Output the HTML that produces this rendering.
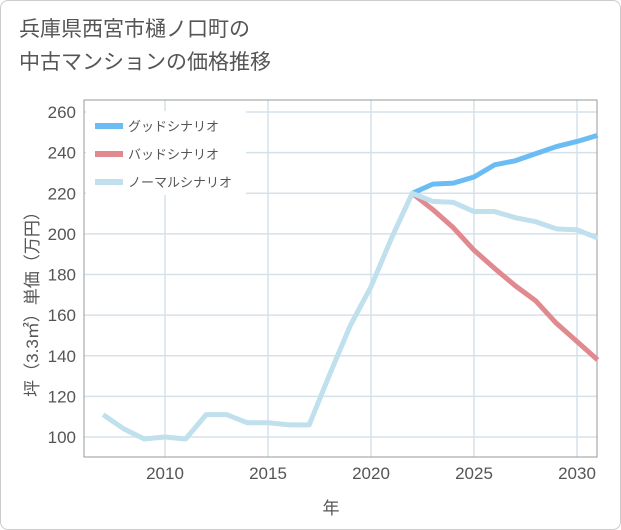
<!DOCTYPE html>
<html><head><meta charset="utf-8"><style>
body{margin:0;background:#fff;font-family:"Liberation Sans","Noto Sans CJK JP",sans-serif;}
.wrap{position:absolute;left:0;top:0;width:619px;height:528px;border:1px solid #ccc;border-radius:8px;background:#fff;}
.title{position:absolute;left:18px;top:12px;font-size:21px;line-height:33px;color:#555;}
</style></head><body>
<div class="wrap">
<div class="title">兵庫県西宮市樋ノ口町の<br>中古マンションの価格推移</div>
<svg id="chart" width="621" height="530" style="position:absolute;left:-1px;top:-1px"></svg>
</div>
<script>
const years=[2007,2008,2009,2010,2011,2012,2013,2014,2015,2016,2017,2018,2019,2020,2021,2022,2023,2024,2025,2026,2027,2028,2029,2030,2031];
const normal=[111,104,99,100,99,111,111,107,107,106,106,131,155,174,198,220,216,215.5,211,211,208,206,202.5,202,198];
const futureYears=[2022,2023,2024,2025,2026,2027,2028,2029,2030,2031];
const good=[220,224.5,225,228,234,236,239.5,243,245.5,248.5];
const bad=[220,212,203,192,183,174.5,167,156,147,138];
const yTicks=[100,120,140,160,180,200,220,240,260];
const xTicks=[2010,2015,2020,2025,2030];
const NS='http://www.w3.org/2000/svg';
const svg=document.getElementById('chart');
const L=84,R=597,T=100,B=457;
const x=v=>165+(v-2010)*20.6;
const y=v=>437-(v-100)*2.031;
function mk(t,a){const e=document.createElementNS(NS,t);for(const k in a)e.setAttribute(k,a[k]);svg.appendChild(e);return e;}
yTicks.forEach(v=>{const l=mk('line',{x1:L,x2:R,y1:y(v),y2:y(v),stroke:'#d6e2ea','stroke-width':1.5});


const t=mk('text',{x:76,y:y(v)+6,'text-anchor':'end','font-size':17,fill:'#555'});t.textContent=v;

});
xTicks.forEach(v=>{const l=mk('line',{x1:x(v),x2:x(v),y1:T,y2:B,stroke:'#d6e2ea','stroke-width':1.5});


const t=mk('text',{x:x(v),y:479,'text-anchor':'middle','font-size':17,fill:'#555'});t.textContent=v;

});
const fr=mk('rect',{x:L,y:T,width:R-L,height:B-T,fill:'none',stroke:'#999','stroke-width':1});


function line(xs,ys,c,n){const p=mk('polyline',{points:xs.map((v,i)=>x(v)+','+y(ys[i])).join(' '),fill:'none',stroke:c,'stroke-width':5,'stroke-linejoin':'round'});

}
line(futureYears,good,'#6bbcf3','good-scenario-line');
line(futureYears,bad,'#e08a90','bad-scenario-line');
line(years,normal,'#bfe0ec','normal-scenario-line');
const leg=[['グッドシナリオ','#6bbcf3'],['バッドシナリオ','#e08a90'],['ノーマルシナリオ','#bfe0ec']];
const lb=mk('rect',{x:86,y:111,width:160,height:84,fill:'#fff'});


leg.forEach((d,i)=>{const yy=126+i*28;
const s=mk('line',{x1:95,x2:123,y1:yy,y2:yy,stroke:d[1],'stroke-width':6});


const t=mk('text',{x:128,y:yy+5,'font-size':13,fill:'#555'});t.textContent=d[0];

});
const xt=mk('text',{x:331,y:514,'text-anchor':'middle','font-size':17,fill:'#555'});xt.textContent='年';


const yt=mk('text',{x:0,y:0,'text-anchor':'middle','font-size':17,fill:'#555',transform:'translate(38,300) rotate(-90)'});yt.textContent='坪（3.3㎡）単価（万円）';


</script>
</body></html>
